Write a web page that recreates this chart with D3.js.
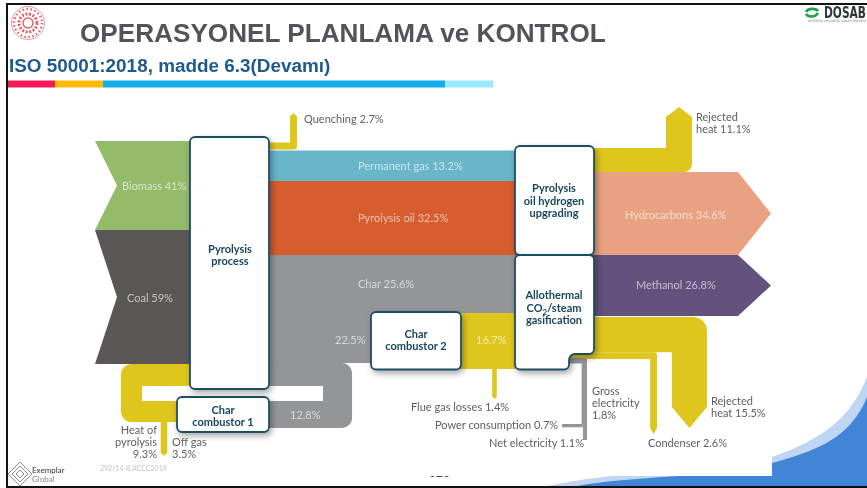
<!DOCTYPE html>
<html>
<head>
<meta charset="utf-8">
<title>Operasyonel Planlama ve Kontrol</title>
<script src="https://cdn.jsdelivr.net/npm/d3@7"></script>
<style>
  html, body { margin: 0; padding: 0; background: #fff; }
  svg { display: block; filter: blur(.4px); }
  .lbl { font-family: Lato, "Open Sans", sans-serif; font-size: 11px; fill: #5d5e60; }
  .inband { font-family: Lato, "Open Sans", sans-serif; font-size: 11px; fill: #fff; fill-opacity: .62; }
  .node-lbl { font-family: Lato, "Open Sans", sans-serif; font-size: 11px; font-weight: 700; fill: #17475e; text-anchor: middle; }
</style>
</head>
<body>
<svg id="chart" width="867" height="488"></svg>
<script>
/* values, percent of input energy */
var inputLabels = ["Biomass 41%", "Coal 59%"];
var inputValues = [41, 59];
var productLabels = ["Permanent gas 13.2%", "Pyrolysis oil 32.5%", "Char 25.6%"];
var productValues = [13.2, 32.5, 25.6];
var outputLabels = ["Rejected heat 11.1%", "Hydrocarbons 34.6%", "Methanol 26.8%"];
var outputValues = [11.1, 34.6, 26.8];

var quenching = 2.7, heatOfPyrolysis = 9.3, offGas = 3.5;
var charToCombustor2 = 22.5, charToCombustor1 = 12.8, combustor2Out = 16.7;
var flueGas = 1.4, rejectedLow = 15.5, condenser = 2.6;
var grossElectricity = 1.8, powerConsumption = 0.7, netElectricity = 1.1;

var inputColors = ["#94bb6a", "#5b5757"];
var productColors = ["#68b6c8", "#d75d2f", "#939598"];
var outputColors = ["#dfc61d", "#e8a282", "#63517e"];
var yellow = "#dfc61d", grey = "#939598";

/* scales: one for band thickness, one for the thin arrows (heavier so they stay visible) */
var thick = d3.scaleLinear().domain([0, 100]).range([0, 227]);
var thin = d3.scaleLinear().domain([0, 4]).range([2, 9.5]);

function stacked(values, stops) {
	return d3.scaleLinear().domain([0].concat(Array.from(d3.cumsum(values)))).range(stops);
}
var yIn = stacked(inputValues, [141, 230, 364]);
var yMid = stacked(productValues, [150.5, 181, 255, 312]);
var yOut = stacked(outputValues, [148, 172, 255, 316]);

/* x positions of the columns */
var X = { inL: 95, notch: 117, p0: 190, p1: 269, c2L: 371, c2R: 461, up0: 515, up1: 594, headL: 738, tip: 771 };

var svg = d3.select("#chart");
var defs = svg.append("defs");
var f = defs.append("filter").attr("id", "shadow").attr("x", "-20%").attr("y", "-20%").attr("width", "150%").attr("height", "150%");
f.append("feDropShadow").attr("dx", 2).attr("dy", 3).attr("stdDeviation", 3).attr("flood-color", "#000").attr("flood-opacity", .35);
defs.append("clipPath").attr("id", "pageclip").append("rect").attr("x", 420).attr("y", 470).attr("width", 40).attr("height", 7);

/* polygon with rounded corners; r can be given per point as third item */
function rounded(points, r) {
	var p = d3.path(), n = points.length;
	var a = points[n - 1], b = points[0];
	p.moveTo((a[0] + b[0]) / 2, (a[1] + b[1]) / 2);
	for (var i = 0; i < n; i++) {
		var cur = points[i], next = points[(i + 1) % n];
		var rad = cur[2] === undefined ? (r || 0) : cur[2];
		p.arcTo(cur[0], cur[1], (cur[0] + next[0]) / 2, (cur[1] + next[1]) / 2, rad);
		p.lineTo((cur[0] + next[0]) / 2, (cur[1] + next[1]) / 2);
	}
	p.closePath();
	return p.toString();
}
function shape(points, color, r) {
	return svg.append("path").attr("d", rounded(points, r)).attr("fill", color);
}

/* ---- page furniture ---- */
svg.append("path").attr("d", "M547,486C620,470 720,470 772,457C820,440 850,420 867,377L867,486Z").attr("fill", "#bed6f2");
svg.append("path").attr("d", "M577,486C640,475 720,478 772,463C812,452 850,440 867,397L867,486Z").attr("fill", "#4285d6");
svg.append("rect").attr("x", 8).attr("y", 90).attr("width", 764).attr("height", 386).attr("fill", "#fff");

svg.append("rect").attr("x", 6).attr("y", 3).attr("width", 861).attr("height", 2).attr("fill", "#111");
svg.append("rect").attr("x", 6).attr("y", 3).attr("width", 2).attr("height", 485).attr("fill", "#111");
svg.append("rect").attr("x", 6).attr("y", 486).attr("width", 861).attr("height", 2).attr("fill", "#111");

var emblem = svg.append("g").attr("transform", "translate(28,23)").attr("fill", "none").attr("stroke", "#e0606a");
emblem.append("circle").attr("r", 16.5).attr("stroke-width", 1).attr("stroke", "#eb9aa0");
emblem.append("circle").attr("r", 14).attr("stroke-width", 2.4).attr("stroke-dasharray", "1.5 2.5");
emblem.append("circle").attr("r", 9).attr("stroke-width", 3).attr("stroke-dasharray", "2 1.6");
emblem.append("circle").attr("r", 5).attr("stroke-width", 1.4);

svg.append("text").attr("x", 80).attr("y", 42).attr("fill", "#50555b")
	.style("font", "bold 26.15px 'Liberation Sans', Arial, sans-serif")
	.text("OPERASYONEL PLANLAMA ve KONTROL");
svg.append("text").attr("x", 9).attr("y", 72).attr("fill", "#1f5a8f")
	.style("font", "bold 18.9px 'Liberation Sans', Arial, sans-serif")
	.text("ISO 50001:2018, madde 6.3(Devamı)");

var ruleStops = [[8, 55, "#f5195a"], [55, 103, "#ffb907"], [103, 445, "#12aeea"], [445, 493, "#99e9ff"]];
svg.selectAll("rect.rule").data(ruleStops).enter().append("rect").attr("class", "rule")
	.attr("x", function(d) { return d[0]; }).attr("y", 80.5)
	.attr("width", function(d) { return d[1] - d[0]; }).attr("height", 7)
	.attr("fill", function(d) { return d[2]; });

/* DOSAB mark */
var dosab = svg.append("g");
dosab.append("path").attr("d", "M806,12C808,8 816,8 818,11M818,13C815,18 808,17 806,14")
	.attr("fill", "none").attr("stroke", "#22a04a").attr("stroke-width", 2.6);
dosab.append("text").attr("x", 824).attr("y", 17.5).attr("textLength", 42).attr("lengthAdjust", "spacingAndGlyphs")
	.attr("fill", "#2a3a3a").style("font", "bold 15px 'DejaVu Sans', sans-serif").text("DOSAB");
dosab.append("text").attr("x", 808).attr("y", 22).attr("textLength", 58).attr("lengthAdjust", "spacingAndGlyphs")
	.attr("fill", "#7b8484").style("font", "3px 'DejaVu Sans', sans-serif").text("DEMİRTAŞ ORGANİZE SANAYİ BÖLGESİ");

/* Exemplar mark */
var ex = svg.append("g").attr("transform", "translate(20,474) rotate(45)").attr("fill", "none").attr("stroke", "#7c7d80");
[8.4, 5.6, 2.8].forEach(function(s) {
	ex.append("rect").attr("x", -s).attr("y", -s).attr("width", 2 * s).attr("height", 2 * s).attr("stroke-width", .9);
});
svg.append("text").attr("x", 32).attr("y", 473).attr("fill", "#333").style("font", "8px Lato, sans-serif").text("Exemplar");
svg.append("text").attr("x", 32).attr("y", 481.5).attr("fill", "#888").style("font", "8px Lato, sans-serif").text("Global");
svg.append("text").attr("x", 100).attr("y", 471).attr("fill", "#c4c4c4").style("font", "7px Lato, sans-serif").text("292/14-IEACCC2019");
svg.append("text").attr("x", 429).attr("y", 483.5).attr("fill", "#444").attr("clip-path", "url(#pageclip)")
	.style("font", "12px Lato, sans-serif").text("273");

/* ---- streams ---- */
var charBottom = yMid(d3.sum(productValues));
var loop = { gapL: 142, gapR: 323, gapT: 386, gapB: 401, bottom: 428 };

/* char to combustor 1, round the loop */
var charLow = charBottom + thick(charToCombustor2);
var loopR = loop.gapR + thick(charToCombustor1);
shape([[X.p1, charLow, 0], [loopR, charLow, 10], [loopR, loop.bottom, 10], [X.p1, loop.bottom, 0],
	[X.p1, loop.gapB, 0], [loop.gapR, loop.gapB, 0], [loop.gapR, loop.gapT, 0], [X.p1, loop.gapT, 0]], grey);
/* char to combustor 2 */
svg.append("rect").attr("x", X.p1).attr("y", charBottom).attr("width", X.c2L + 5 - X.p1).attr("height", thick(charToCombustor2)).attr("fill", grey);

/* heat of pyrolysis, back into the process box */
var heatW = thick(heatOfPyrolysis);
var heatL = loop.gapL - heatW;
shape([[X.p0 + 4, yIn(100), 0], [heatL, yIn(100), 11], [heatL, loop.gapB + heatW, 11], [190, loop.gapB + heatW, 0],
	[190, loop.gapB, 0], [loop.gapL, loop.gapB, 0], [loop.gapL, loop.gapT, 0], [X.p0 + 4, loop.gapT, 0]], yellow);

function downArrow(cx, y0, yTip, w, color) {
	var head = w / 2;
	return shape([[cx - w / 2, y0, 0], [cx + w / 2, y0, 0], [cx + w / 2, yTip - head, 0], [cx, yTip, 0], [cx - w / 2, yTip - head, 0]], color);
}
downArrow(164, loop.gapB + heatW - 1, 456, thin(offGas) - 2, yellow);

/* inputs */
svg.selectAll("path.input").data(inputValues).enter().append("path").attr("class", "input")
	.attr("fill", function(d, i) { return inputColors[i]; })
	.attr("d", function(d, i) {
		var prev = d3.sum(inputValues.slice(0, i));
		var y0 = yIn(prev), y1 = yIn(prev + d);
		return rounded([[X.inL, y0], [X.p0 + 2, y0], [X.p0 + 2, y1], [X.inL, y1], [X.notch, (y0 + y1) / 2]]);
	});

/* products of the pyrolysis box */
svg.selectAll("rect.product").data(productValues).enter().append("rect").attr("class", "product")
	.attr("x", X.p1).attr("width", X.up0 + 2 - X.p1)
	.attr("y", function(d, i) { return yMid(d3.sum(productValues.slice(0, i))); })
	.attr("height", function(d) { return thick(d) + 1; })
	.attr("fill", function(d, i) { return productColors[i]; });

/* quenching */
var qW = thin(quenching), qR = 297, qTop = 113;
shape([[X.p1 - 2, yMid(0) - 1 - qW, 0], [qR - qW, yMid(0) - 1 - qW, 0], [qR - qW, qTop + qW / 2, 0], [qR - qW / 2, qTop, 0],
	[qR, qTop + qW / 2, 0], [qR, yMid(0) - 1, 3], [X.p1 - 2, yMid(0) - 1, 0]], yellow);

/* combustor 2 off to the right */
var lowTop = 317, lowBottom = lowTop + thick(rejectedLow);
var lowW = thick(rejectedLow);
var lowR = 707;
svg.append("rect").attr("x", X.c2R - 4).attr("y", charBottom + 1).attr("width", X.up0 + 4 - X.c2R).attr("height", 56).attr("fill", yellow);
shape([[X.up1 - 4, lowTop, 0], [lowR, lowTop, 14], [lowR, 407, 0], [lowR - lowW / 2, 428, 0], [lowR - lowW, 407, 0],
	[lowR - lowW, lowBottom, 0], [X.up1 - 4, lowBottom, 0]], yellow);
downArrow(494.5, 367, 399, thin(flueGas), yellow);

/* condenser */
var cW = thin(condenser), cR = 657;
shape([[X.up1 - 25, lowBottom, 0], [cR, lowBottom, 3], [cR, 428, 0], [cR - cW / 2, 434, 0], [cR - cW, 428, 0],
	[cR - cW, lowBottom + cW, 0], [X.up1 - 25, lowBottom + cW, 0]], yellow);

/* electricity */
var gW = thin(grossElectricity), gR = 587, gTop = lowBottom + cW - 1;
shape([[560, gTop, 0], [gR, gTop, 2], [gR, 425, 0], [gR - gW, 425, 0], [gR - gW, gTop + gW, 0], [560, gTop + gW, 0]], grey);
svg.append("rect").attr("x", gR - thin(netElectricity)).attr("y", 424).attr("width", thin(netElectricity)).attr("height", 16).attr("fill", grey);
svg.append("rect").attr("x", 562).attr("y", 424).attr("width", gR - gW - 562 + 1).attr("height", thin(powerConsumption)).attr("fill", grey);

/* outputs */
var rW = 26;
var rR = 692, rTop = 107;
shape([[X.up1 - 4, yOut(0), 0], [rR - rW, yOut(0), 0], [rR - rW, rTop + 10, 0], [rR - rW / 2, rTop, 0], [rR, rTop + 10, 0],
	[rR, yOut(outputValues[0]) , 8], [X.up1 - 4, yOut(outputValues[0]), 0]], outputColors[0]);

svg.selectAll("path.output").data(outputValues.slice(1)).enter().append("path").attr("class", "output")
	.attr("fill", function(d, i) { return outputColors[i + 1]; })
	.attr("d", function(d, i) {
		var prev = d3.sum(outputValues.slice(0, i + 1));
		var y0 = yOut(prev), y1 = yOut(prev + d);
		return rounded([[X.up1 - 4, y0], [X.headL, y0], [X.tip, (y0 + y1) / 2], [X.headL, y1], [X.up1 - 4, y1]]);
	});

/* ---- process boxes ---- */
var boxes = [
	[[190, 137], [269, 137], [269, 389], [190, 389]],
	[[515, 146], [594, 146], [594, 255], [515, 255]],
	[[515, 255], [594, 255], [594, 354], [569, 354, 6], [569, 369.5], [515, 369.5]],
	[[371, 312], [461, 312], [461, 369.5], [371, 369.5]],
	[[177, 397], [269, 397], [269, 432], [177, 432]]
];
svg.selectAll("path.box").data(boxes).enter().append("path").attr("class", "box")
	.attr("d", function(d) { return rounded(d, 5); })
	.attr("fill", "#fff").attr("stroke", "#1d4e63").attr("stroke-width", 1.8)
	.attr("filter", "url(#shadow)");

/* ---- labels ---- */
function put(cls, x, y, txt, anchor) {
	var t = svg.append("text").attr("class", cls).attr("x", x).attr("y", y);
	if (anchor) t.attr("text-anchor", anchor);
	t.text(txt);
	return t;
}
put("inband", 122, 190, inputLabels[0]);
put("inband", 127, 302, inputLabels[1]);
put("inband", 358, 170, productLabels[0]);
put("inband", 358, 222, productLabels[1]);
put("inband", 358, 288, productLabels[2]);
put("inband", 335, 344, charToCombustor2 + "%");
put("inband", 476, 344, combustor2Out + "%");
put("inband", 290, 419, charToCombustor1 + "%");
put("inband", 625, 219, outputLabels[1]);
put("inband", 636, 289, outputLabels[2]);

put("lbl", 304, 123, "Quenching " + quenching + "%");
put("lbl", 696, 121, "Rejected");
put("lbl", 696, 133, "heat " + outputValues[0] + "%");
put("lbl", 157, 434, "Heat of", "end");
put("lbl", 157, 446, "pyrolysis", "end");
put("lbl", 157, 458, heatOfPyrolysis + "%", "end");
put("lbl", 172, 446, "Off gas");
put("lbl", 172, 458, offGas + "%");
put("lbl", 411, 411, "Flue gas losses " + flueGas + "%");
put("lbl", 435, 429, "Power consumption " + powerConsumption + "%");
put("lbl", 489, 447, "Net electricity " + netElectricity + "%");
put("lbl", 592, 395, "Gross");
put("lbl", 592, 407, "electricity");
put("lbl", 592, 419, grossElectricity + "%");
put("lbl", 711, 405, "Rejected");
put("lbl", 711, 417, "heat " + rejectedLow + "%");
put("lbl", 648, 447, "Condenser " + condenser + "%");

put("node-lbl", 230, 253, "Pyrolysis");
put("node-lbl", 230, 265, "process");
put("node-lbl", 554, 192, "Pyrolysis");
put("node-lbl", 554, 205, "oil hydrogen");
put("node-lbl", 554, 217, "upgrading");
put("node-lbl", 554, 299, "Allothermal");
var co2 = put("node-lbl", 554, 312, "CO");
co2.append("tspan").attr("dy", 2.5).style("font-size", "8px").text("2");
co2.append("tspan").attr("dy", -2.5).text("/steam");
put("node-lbl", 554, 324, "gasification");
put("node-lbl", 416, 338, "Char");
put("node-lbl", 416, 350, "combustor 2");
put("node-lbl", 223, 414, "Char");
put("node-lbl", 223, 425.5, "combustor 1");
</script>
</body>
</html>
